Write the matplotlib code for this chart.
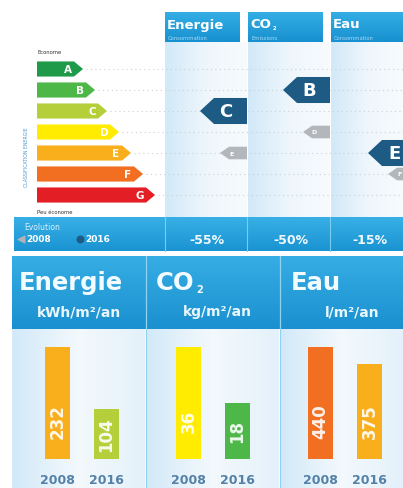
import numpy as np
import matplotlib
matplotlib.use("Agg")
import matplotlib.pyplot as plt
from matplotlib.colors import LinearSegmentedColormap
from matplotlib.patches import Polygon

plt.rcParams['font.family'] = ['DejaVu Sans']

# ---------------- data ----------------
ratings = list("ABCDEFG")
rating_colors = ['#1E9A48', '#4DB848', '#B5CF3A', '#FFEC00', '#F9AE1B', '#F26E21', '#E31E24']
indicators = ['Energie', 'CO₂', 'Eau']
subtitles = ['Consommation', 'Emissions', 'Consommation']
units = ['kWh/m²/an', 'kg/m²/an', 'l/m²/an']
years = ['2008', '2016']
values_2008 = [232, 36, 440]
values_2016 = [104, 18, 375]
class_2008 = ['E', 'D', 'F']
class_2016 = ['C', 'B', 'E']

W, H = 403, 489
fig = plt.figure(figsize=(W / 100, H / 100), dpi=100)
fig.patch.set_facecolor('white')


def px_axes(x0, y0, x1, y1):
    ax = fig.add_axes([x0 / W, 1 - y1 / H, (x1 - x0) / W, (y1 - y0) / H])
    ax.patch.set_alpha(0)
    return ax


bg = px_axes(0, 0, W, H)
bg.axis('off')


def grad(x0, y0, x1, y1, colors, horizontal=True, z=0):
    cmap = LinearSegmentedColormap.from_list('g', colors)
    arr = np.linspace(0, 1, 64)
    arr = arr[None, :] if horizontal else arr[:, None]
    bg.imshow(arr, cmap=cmap, extent=(x0, x1, y1, y0), aspect='auto',
              origin='upper', zorder=z, interpolation='bicubic')


def title_text(x, y, name, size, color):
    """Draw a title; a trailing subscript digit is drawn small and low."""
    sub = None
    if name.endswith('₂'):
        name, sub = name[:-1], '2'
    t = bg.text(x, y, name, color=color, fontsize=size, fontweight='bold',
                va='center', ha='left', zorder=3)
    if sub:
        bg.annotate(sub, xy=(1.0, 0.0), xycoords=t, xytext=(1, 0),
                    textcoords='offset points', fontsize=size * 0.4,
                    fontweight='bold', color=color, ha='left', va='bottom', zorder=3)
    return t


# ---------------- top section backgrounds ----------------
col_x = [(165, 247), (248, 330), (331, 403)]
head_x = [(165, 240), (248, 323), (331, 403)]
for (x0, x1) in col_x:
    grad(x0, 43, x1, 218, ['#D2E9F8', '#EEF6FC', '#F8FBFE'], True, 0)
for (x0, x1), name, sub in zip(head_x, indicators, subtitles):
    grad(x0, 13, x1, 43, ['#34AEE4', '#1790D0'], False, 1)
    title_text(x0 + 2, 25, name, 9.5, 'white')
    bg.text(x0 + 3, 38, sub, color='#A9DBF5', fontsize=3.8, va='center',
            ha='left', zorder=3)

# evolution band
grad(14, 218, 403, 252, ['#38B0E6', '#1A93D2'], False, 1)
for xs in [165, 247, 330]:
    bg.plot([xs, xs], [218, 252], color='#7ACDF2', lw=0.8, zorder=2)
bg.text(24, 227, 'Evolution', color='#DDF1FC', fontsize=5.5, va='center', zorder=3)
bg.scatter([21], [240], marker='<', s=22, color='#B0B4B8', zorder=3)
bg.text(26, 240, years[0], color='white', fontsize=6.5, fontweight='bold', va='center', zorder=3)
bg.scatter([80], [240], marker='o', s=22, color='#1D5B84', zorder=3)
bg.text(85, 240, years[1], color='white', fontsize=6.5, fontweight='bold', va='center', zorder=3)
pct_x = [207, 291, 370]
for v0, v1, xc in zip(values_2008, values_2016, pct_x):
    pct = round((v1 - v0) / v0 * 100)
    bg.text(xc, 240, f'{pct}%', color='#F0FAFF', fontsize=9, fontweight='bold',
            ha='center', va='center', zorder=3)

# left scale texts
bg.text(37, 53, 'Econome', fontsize=3.8, color='#333333', va='center', zorder=3)
bg.text(37, 212, 'Peu économe', fontsize=3.8, color='#333333', va='center', zorder=3)
bg.text(27, 157, 'CLASSIFICATION ENERGIE', fontsize=3.3, color='#4A98CF',
        rotation=90, ha='center', va='center', zorder=3)

# ---------------- bottom section backgrounds ----------------
grad(12, 257, 403, 330, ['#36ADE4', '#1B90D0'], False, 1)
panels = [(12, 145), (146, 279), (281, 403)]
for (x0, x1) in panels:
    grad(x0, 330, x1, 489, ['#D3E9F8', '#F3F9FD', '#E4F1FA'], True, 1)
for xs in [145.5, 280]:
    bg.plot([xs, xs], [257, 489], color='#8FD2F2', lw=0.9, zorder=2)
title_x = [19, 156, 291]
unit_x = [79, 217, 352]
for name, unit, tx, ux in zip(indicators, units, title_x, unit_x):
    title_text(tx, 283, name, 17.5, '#F2FBFF')
    bg.text(ux, 312, unit, color='#E8F6FE', fontsize=10, fontweight='bold',
            va='center', ha='center', zorder=3)

bg.set_xlim(0, W)
bg.set_ylim(H, 0)

# ---------------- rating scale and class markers ----------------
rax = px_axes(0, 43, W, 218)
rax.axis('off')
row0, row_h = 70, 21
rax.set_xlim(0, W)
rax.set_ylim((218 - row0) / row_h, (43 - row0) / row_h)

for i, (r, c) in enumerate(zip(ratings, rating_colors)):
    tip = 83 + 12 * i
    hh = 0.36
    poly = Polygon([(37, i - hh), (tip - 9, i - hh), (tip, i), (tip - 9, i + hh), (37, i + hh)],
                   closed=True, facecolor=c, edgecolor='none', zorder=2)
    rax.add_patch(poly)
    rax.text(tip - 15, i, r, color='white', fontsize=7.5, fontweight='bold',
             ha='center', va='center', zorder=3)
    rax.hlines(i, tip + 3, W, colors='#C9D1D9', linestyles=(0, (1, 3)), lw=0.8, zorder=1)

right_edges = [247, 330, 415]
for xr, c8, c16 in zip(right_edges, class_2008, class_2016):
    i16 = ratings.index(c16)
    h = 0.62
    rax.add_patch(Polygon([(xr, i16 - h), (xr - 33, i16 - h), (xr - 47, i16),
                           (xr - 33, i16 + h), (xr, i16 + h)], closed=True,
                          facecolor='#1D5B84', edgecolor='none', zorder=4))
    rax.text(xr - 21, i16, c16, color='white', fontsize=13, fontweight='bold',
             ha='center', va='center', zorder=5)
    i8 = ratings.index(c8)
    h = 0.3
    rax.add_patch(Polygon([(xr, i8 - h), (xr - 18, i8 - h), (xr - 27, i8),
                           (xr - 18, i8 + h), (xr, i8 + h)], closed=True,
                          facecolor='#B3B7BB', edgecolor='none', zorder=4))
    rax.text(xr - 16, i8, c8, color='white', fontsize=4.5, fontweight='bold',
             ha='center', va='center', zorder=5)

# ---------------- bar panels ----------------
bar_centers = [(57.5, 106), (188.5, 237.5), (320.5, 369.5)]
spacing = 48.5
for k in range(3):
    c0, c1 = bar_centers[k]
    ax = px_axes(c0 - spacing / 2, 340, c1 + spacing / 2, 460)
    vals = [values_2008[k], values_2016[k]]
    cols = [rating_colors[ratings.index(class_2008[k])],
            rating_colors[ratings.index(class_2016[k])]]
    gmax = max(vals)
    ax.bar([0, 1], vals, width=25 / spacing, color=cols, zorder=2)
    ax.set_xlim(-0.5, 1.5)
    ax.set_ylim(0, gmax * 120 / 112)
    for x, v in zip([0, 1], vals):
        ax.text(x, min(v / 2, 0.34 * gmax), str(v), rotation=90, color='white',
                alpha=0.9, fontsize=12, fontweight='bold', ha='center', va='center', zorder=3)
    ax.set_xticks([0, 1])
    ax.set_xticklabels(years, fontsize=9, fontweight='bold', color='#5481A8')
    ax.tick_params(axis='x', length=0, pad=10)
    ax.set_yticks([])
    for s in ax.spines.values():
        s.set_visible(False)

fig.savefig('out.png', dpi=100, facecolor='white')
